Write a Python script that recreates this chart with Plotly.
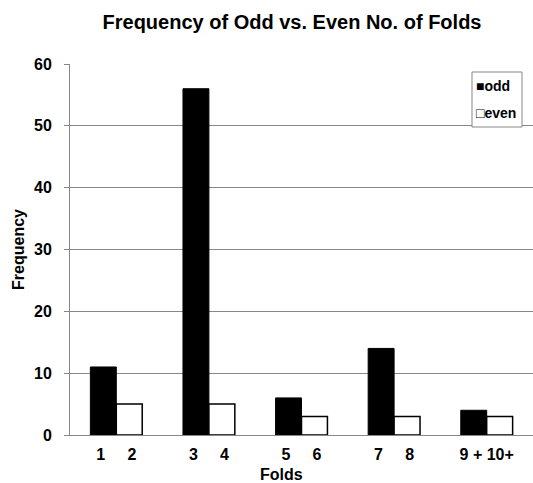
import plotly.graph_objects as go

NB = "\u00a0"

categories = ["1-2", "3-4", "5-6", "7-8", "9+-10+"]
tick_labels = [
    "1" + NB * 5 + "2",
    "3" + NB * 5 + "4",
    "5" + NB * 5 + "6",
    "7" + NB * 5 + "8",
    "9 + 10+",
]
odd_values = [11, 56, 6, 14, 4]
even_values = [5, 5, 3, 3, 3]
y_ticks = [0, 10, 20, 30, 40, 50, 60]
legend_labels = ["■odd", "□even"]

FONT = "Arial, Liberation Sans, sans-serif"
GRAY = "#878787"

fig = go.Figure()
fig.add_trace(go.Bar(
    x=categories, y=odd_values, name="odd",
    marker=dict(color="black", line=dict(color="black", width=1)),
    showlegend=False,
))
fig.add_trace(go.Bar(
    x=categories, y=even_values, name="even",
    marker=dict(color="white", line=dict(color="black", width=1.5)),
    showlegend=False,
))

# legend box (drawn manually to match the compact Excel-style legend)
fig.add_shape(type="rect", xref="paper", yref="paper",
              x0=(472 - 70) / 463, x1=(522 - 70) / 463,
              y0=(435 - 127) / 371, y1=(435 - 72) / 371,
              line=dict(color=GRAY, width=1), fillcolor="white", layer="above")

legend_y = [(435 - 86) / 371, (435 - 113) / 371]
annotations = [
    dict(text="Folds", xref="paper", yref="paper",
         x=(281 - 70) / 463, y=-(474 - 435) / 371,
         xanchor="center", yanchor="middle", showarrow=False,
         font=dict(family=FONT, size=16, weight=700, color="black")),
]
for lbl, ly in zip(legend_labels, legend_y):
    annotations.append(dict(
        text=lbl, xref="paper", yref="paper",
        x=(474 - 70) / 463, y=ly, xanchor="left", yanchor="middle",
        showarrow=False, font=dict(family=FONT, size=14, weight=700, color="black")))

fig.update_layout(
    width=533, height=483,
    margin=dict(l=70, r=0, t=64, b=48),
    paper_bgcolor="white", plot_bgcolor="white",
    barmode="group", bargap=0.44, bargroupgap=0,
    font=dict(family=FONT, color="black"),
    title=dict(
        text="Frequency of Odd vs. Even No. of Folds",
        x=292 / 533, xanchor="center", y=1 - 22 / 483, yanchor="middle",
        font=dict(family=FONT, size=20, weight=700, color="black"),
    ),
    xaxis=dict(
        tickmode="array", tickvals=categories, ticktext=tick_labels,
        tickfont=dict(family=FONT, size=16, weight=700, color="black"),
        showline=True, linecolor=GRAY, linewidth=1,
        ticks="", showgrid=False, zeroline=False,
        ticklabelstandoff=5,
    ),
    yaxis=dict(
        range=[0, 60], tickvals=y_ticks,
        tickfont=dict(family=FONT, size=16, weight=700, color="black"),
        showline=True, linecolor=GRAY, linewidth=1,
        ticks="outside", ticklen=5, tickcolor=GRAY, tickwidth=1,
        ticklabelstandoff=9,
        showgrid=True, gridcolor=GRAY, gridwidth=1, zeroline=False,
        title=dict(text="Frequency", standoff=5,
                   font=dict(family=FONT, size=16, weight=700, color="black")),
    ),
    annotations=annotations,
)

fig.write_html("out.html", config={"displayModeBar": False},
               post_script="document.body.style.margin='0';")
